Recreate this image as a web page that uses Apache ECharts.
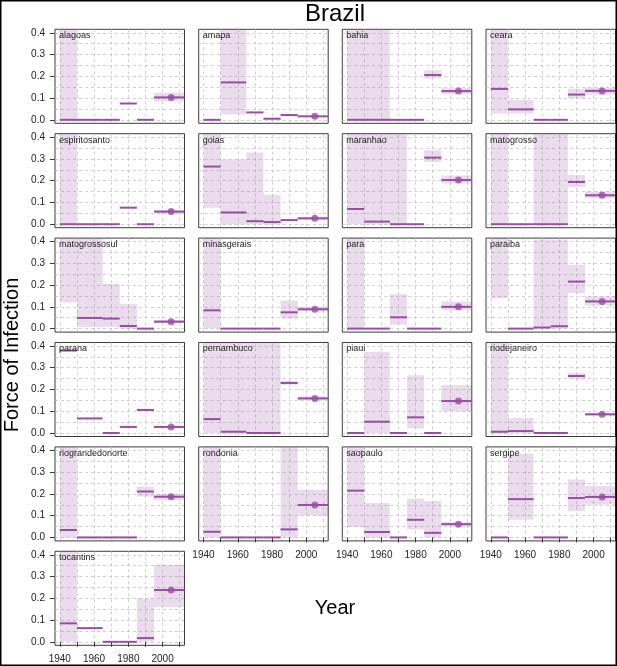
<!DOCTYPE html>
<html lang="en">
<head>
<meta charset="UTF-8">
<title>Brazil - Force of Infection</title>
<style>
    * { margin: 0; padding: 0; box-sizing: border-box; }
    html, body { width: 617px; height: 666px; background: #fff; overflow: hidden; }
    #chart { width: 617px; height: 666px; }
</style>
</head>
<body>
<div id="chart"></div>
<script src="https://cdn.jsdelivr.net/npm/echarts@6/dist/echarts.min.js"></script>
<script>
// panels, in reading order
const states = [
    'alagoas', 'amapa', 'bahia', 'ceara',
    'espiritosanto', 'goias', 'maranhao', 'matogrosso',
    'matogrossosul', 'minasgerais', 'para', 'paraiba',
    'parana', 'pernambuco', 'piaui', 'riodejaneiro',
    'riograndedonorte', 'rondonia', 'saopaulo', 'sergipe',
    'tocantins'
];

// estimation periods (last one runs past the axis end)
const periodStart = [1940, 1950, 1965, 1975, 1985, 1995];
const periodEnd = [1950, 1965, 1975, 1985, 1995, 2015];
const pointYear = 2005;

const yearTicks = [1940, 1950, 1960, 1970, 1980, 1990, 2000, 2010];
const yearLabels = [1940, 1960, 1980, 2000];
const foiTicks = [0, 0.1, 0.2, 0.3, 0.4];
const foiGridLines = [0, 0.05, 0.1, 0.15, 0.2, 0.25, 0.3, 0.35, 0.4];

// force of infection per period (one row per state)
const foiMid = [
    [0, 0, 0, 0.075, 0, 0.103],
    [0, 0.172, 0.034, 0.005, 0.022, 0.016],
    [0, 0, 0, 0, 0.206, 0.132],
    [0.142, 0.048, 0, 0, 0.116, 0.133],
    [0, 0, 0, 0.076, 0, 0.058],
    [0.265, 0.054, 0.014, 0.01, 0.019, 0.027],
    [0.07, 0.012, 0, 0, 0.306, 0.203],
    [0, 0, 0, 0, 0.194, 0.133],
    [0.45, 0.049, 0.046, 0.012, 0, 0.032],
    [0.084, 0, 0, 0, 0.075, 0.089],
    [0, 0, 0.052, 0, 0, 0.1],
    [0.45, 0, 0.005, 0.011, 0.216, 0.125],
    [0.379, 0.067, 0, 0.028, 0.106, 0.028],
    [0.064, 0.006, 0, 0, 0.23, 0.159],
    [0, 0.052, 0, 0.072, 0, 0.147],
    [0.006, 0.009, 0, 0, 0.262, 0.086],
    [0.034, 0, 0, 0, 0.211, 0.187],
    [0.026, 0, 0, 0, 0.037, 0.149],
    [0.215, 0.025, 0, 0.081, 0.021, 0.061],
    [0, 0.176, 0, 0, 0.181, 0.186],
    [0.085, 0.063, 0, 0, 0.017, 0.238]
];

// lower bound of the interval
const foiLow = [
    [0, 0, 0, 0.075, 0, 0.085],
    [0, 0.025, 0.034, 0.005, 0.022, 0.014],
    [0, 0, 0, 0, 0.19, 0.118],
    [0.029, 0.029, 0, 0, 0.099, 0.116],
    [0, 0, 0, 0.076, 0, 0.05],
    [0.076, 0, 0, 0, 0.019, 0.022],
    [0, 0, 0, 0, 0.286, 0.188],
    [0, 0, 0, 0, 0.171, 0.12],
    [0.12, 0.008, 0.008, 0, 0, 0.026],
    [0, 0, 0, 0, 0.046, 0.08],
    [0, 0, 0.018, 0, 0, 0.084],
    [0.14, 0, 0, 0, 0.163, 0.106],
    [0.379, 0.067, 0, 0.028, 0.106, 0.024],
    [0, 0, 0, 0, 0.222, 0.151],
    [0, 0, 0, 0.021, 0, 0.1],
    [0, 0, 0, 0, 0.25, 0.08],
    [0, 0, 0, 0, 0.188, 0.172],
    [0, 0, 0, 0, 0, 0.101],
    [0.048, 0, 0, 0.037, 0, 0.052],
    [0, 0.081, 0, 0, 0.121, 0.15],
    [0, 0.063, 0, 0, 0, 0.16]
];

// upper bound of the interval (values past 0.416 run off the top)
const foiHigh = [
    [0.45, 0, 0, 0.075, 0, 0.125],
    [0, 0.45, 0.034, 0.005, 0.022, 0.018],
    [0.45, 0.45, 0, 0, 0.228, 0.145],
    [0.45, 0.092, 0, 0, 0.143, 0.148],
    [0.45, 0, 0, 0.076, 0, 0.067],
    [0.45, 0.298, 0.33, 0.135, 0.019, 0.034],
    [0.45, 0.45, 0.45, 0, 0.34, 0.224],
    [0.45, 0, 0.45, 0.45, 0.226, 0.15],
    [0.45, 0.45, 0.205, 0.113, 0, 0.04],
    [0.45, 0, 0, 0, 0.129, 0.099],
    [0.45, 0, 0.158, 0, 0, 0.125],
    [0.45, 0, 0.41, 0.41, 0.293, 0.149],
    [0.379, 0.067, 0, 0.028, 0.106, 0.032],
    [0.45, 0.45, 0.45, 0.45, 0.24, 0.168],
    [0, 0.374, 0, 0.265, 0, 0.22],
    [0.45, 0.069, 0, 0, 0.277, 0.092],
    [0.45, 0, 0, 0, 0.234, 0.2],
    [0.45, 0, 0, 0, 0.45, 0.219],
    [0.45, 0.158, 0, 0.178, 0.167, 0.07],
    [0, 0.385, 0, 0, 0.266, 0.236],
    [0.45, 0.063, 0, 0, 0.2, 0.354]
];

const lineColor = '#984EA3';
const shadeColor = 'rgba(152, 78, 163, 0.2)';
const boxColor = '#3c3c3c';
const textColor = '#222';
const font = 'Liberation Sans, Arial, sans-serif';

const colLeft = [55, 198.7, 342.3, 486];
const panelW = 129.5;
const panelH = 94;
const rowTop0 = 29.3;
const rowStep = 104.4;

// shading + step segment for one period
function renderPeriod(params, api) {
    const cs = params.coordSys;
    const x0 = api.value(0), x1 = api.value(1);
    const mid = api.value(2), lo = api.value(3), hi = api.value(4);
    const children = [];
    if (hi > lo) {
        const pA = api.coord([x0, lo]);
        const pB = api.coord([x1, hi]);
        const band = echarts.graphic.clipRectByRect(
            { x: pA[0], y: pB[1], width: pB[0] - pA[0], height: pA[1] - pB[1] },
            { x: cs.x, y: cs.y, width: cs.width, height: cs.height }
        );
        if (band) children.push({ type: 'rect', shape: band, style: { fill: shadeColor } });
    }
    const a = api.coord([x0, mid]);
    const b = api.coord([x1, mid]);
    if (a[1] >= cs.y && a[1] <= cs.y + cs.height) {
        children.push({
            type: 'line',
            shape: { x1: Math.max(a[0], cs.x), y1: a[1], x2: Math.min(b[0], cs.x + cs.width), y2: b[1] },
            style: { stroke: lineColor, lineWidth: 2 }
        });
    }
    return { type: 'group', children: children };
}

const grids = [], xAxes = [], yAxes = [], series = [], graphics = [];

states.forEach((name, k) => {
    const row = Math.floor(k / 4), col = k % 4;
    const left = colLeft[col], top = rowTop0 + rowStep * row;
    const bottomOfColumn = (k + 4 >= states.length);

    grids.push({
        left: left, top: top, width: panelW, height: panelH,
        show: true, borderColor: boxColor, borderWidth: 1, backgroundColor: 'transparent'
    });

    xAxes.push({
        gridIndex: k, type: 'value', min: 1937.2, max: 2012.8,
        axisLine: { show: false },
        axisTick: { show: bottomOfColumn, customValues: yearTicks, length: 5, lineStyle: { color: boxColor } },
        axisLabel: {
            show: bottomOfColumn, customValues: yearLabels, margin: 9,
            fontSize: 10, color: textColor, fontFamily: font, formatter: v => String(v)
        },
        splitLine: { show: true, lineStyle: { color: '#c4c4c4', type: [3, 3], width: 0.8 } }
    });

    // axis with the 0.1 ticks and labels
    yAxes.push({
        gridIndex: k, type: 'value', min: -0.016, max: 0.416,
        axisLine: { show: false },
        axisTick: { show: col === 0, customValues: foiTicks, length: 5, lineStyle: { color: boxColor } },
        axisLabel: {
            show: col === 0, customValues: foiTicks, margin: 10,
            fontSize: 10, color: textColor, fontFamily: font, formatter: v => v.toFixed(1)
        },
        splitLine: { show: false }
    });
    // axis that only carries the dashed 0.05 grid
    yAxes.push({
        gridIndex: k, type: 'value', min: -0.016, max: 0.416,
        axisLine: { show: false },
        axisTick: { show: false, customValues: foiGridLines },
        axisLabel: { show: false },
        splitLine: { show: true, lineStyle: { color: '#c4c4c4', type: [3, 3], width: 0.8 } }
    });

    const periods = periodStart.map((s, i) => [s, periodEnd[i], foiMid[k][i], foiLow[k][i], foiHigh[k][i]]);
    series.push({
        type: 'custom', xAxisIndex: k, yAxisIndex: 2 * k,
        renderItem: renderPeriod,
        encode: { x: [0, 1], y: [2, 3, 4] },
        data: periods, silent: true, z: 2
    });
    series.push({
        type: 'scatter', xAxisIndex: k, yAxisIndex: 2 * k,
        data: [[pointYear, foiMid[k][5]]],
        symbol: 'circle', symbolSize: 7,
        itemStyle: { color: lineColor },
        silent: true, z: 3
    });

    graphics.push({
        type: 'text', x: left + 4, y: top + 6.5,
        style: { text: name, font: '9px ' + font, fill: textColor, textVerticalAlign: 'middle' },
        z: 10
    });
});

graphics.push(
    { type: 'text', x: 335, y: 14, style: { text: 'Brazil', font: '24px ' + font, fill: '#000', textAlign: 'center', textVerticalAlign: 'middle' } },
    { type: 'text', x: 335, y: 608, style: { text: 'Year', font: '20px ' + font, fill: '#000', textAlign: 'center', textVerticalAlign: 'middle' } },
    { type: 'text', x: 12, y: 355, rotation: Math.PI / 2, style: { text: 'Force of Infection', font: '20px ' + font, fill: '#000', textAlign: 'center', textVerticalAlign: 'middle' } },
    { type: 'rect', shape: { x: 0.75, y: 0.75, width: 615.5, height: 664.5 }, style: { fill: 'none', stroke: '#000', lineWidth: 1.5 }, z: 20 }
);

const chart = echarts.init(document.getElementById('chart'));
chart.setOption({
    animation: false,
    backgroundColor: '#fff',
    grid: grids,
    xAxis: xAxes,
    yAxis: yAxes,
    series: series,
    graphic: graphics
});
</script>
</body>
</html>
